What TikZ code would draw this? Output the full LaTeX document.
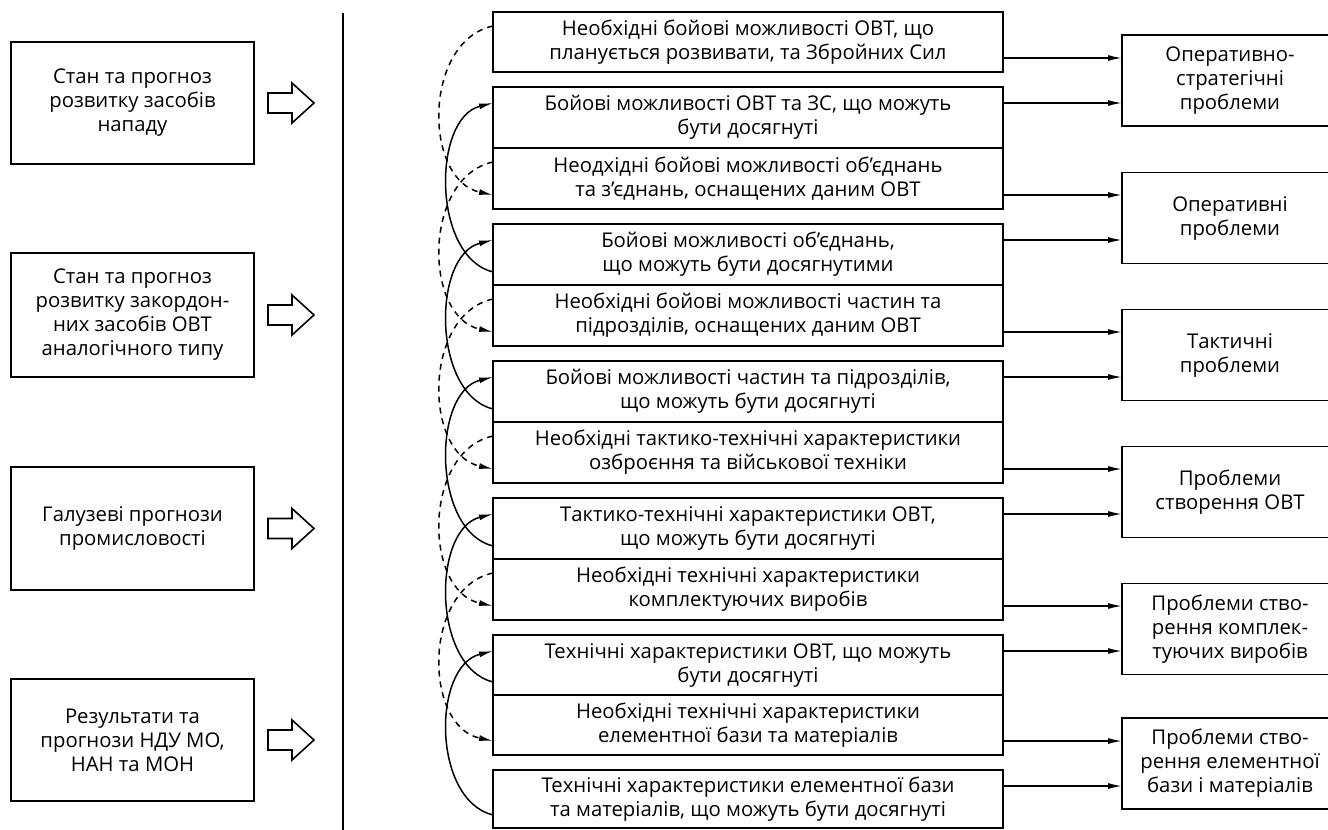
\documentclass[tikz,border=0pt]{standalone}
\usepackage{fontspec}
\setmainfont{Open Sans}
\usetikzlibrary{calc,arrows.meta}
\begin{document}
\begin{tikzpicture}[x=1pt,y=-1pt,
  txt/.style={font=\fontsize{20.3}{24}\selectfont, align=center},
  box/.style={txt, draw, line width=1.7pt, inner sep=0pt, outer sep=0pt},
  lbox/.style={box, minimum width=243pt},
  mbox/.style={box, minimum width=510pt},
  rbox/.style={box, minimum width=216pt, minimum height=91pt},
  arr/.style={line width=1.5pt, -{Latex[length=14pt,width=6pt]}},
  dsh/.style={arr, dash pattern=on 6pt off 5pt},
  harrow/.pic={\draw[line width=1.6pt, line join=miter]
      (-23,-10) -- (1,-10) -- (1,-20) -- (23,0) -- (1,20) -- (1,10) -- (-23,10) -- cycle;}
]
\useasboundingbox (0,0) rectangle (1328,830);
\clip (0,0) rectangle (1328,830);

% left column
\node[lbox, minimum height=122pt] (L1) at (132.5,103) {Стан та прогноз\\розвитку засобів\\нападу};
\node[lbox, minimum height=124pt] (L2) at (132.5,315) {Стан та прогноз\\розвитку закордон-\\них засобів ОВТ\\аналогічного типу};
\node[lbox, minimum height=123pt] (L3) at (132.5,528.5) {Галузеві прогнози\\промисловості};
\node[lbox, minimum height=122pt] (L4) at (132.5,740) {Результати та\\прогнози НДУ МО,\\НАН та МОН};

\pic at (291,103) {harrow};
\pic at (291,315) {harrow};
\pic at (291,528.5) {harrow};
\pic at (291,740) {harrow};

\draw[line width=1.6pt] (343,13) -- (343,830);

% middle column
\node[mbox, minimum height=60pt] (A) at (748,42) {Необхідні бойові можливості ОВТ, що\\планується розвивати, та Збройних Сил};
\node[mbox, minimum height=61pt] (B1) at (748,117.5) {Бойові можливості ОВТ та ЗС, що можуть\\бути досягнуті};
\node[mbox, minimum height=61pt] (B2) at (748,178.5) {Неодхідні бойові можливості об’єднань\\та з’єднань, оснащених даним ОВТ};
\node[mbox, minimum height=61pt] (C1) at (748,254.5) {Бойові можливості об’єднань,\\що можуть бути досягнутими};
\node[mbox, minimum height=61pt] (C2) at (748,315.5) {Необхідні бойові можливості частин та\\підрозділів, оснащених даним ОВТ};
\node[mbox, minimum height=61pt] (D1) at (748,391.5) {Бойові можливості частин та підрозділів,\\що можуть бути досягнуті};
\node[mbox, minimum height=61pt] (D2) at (748,452.5) {Необхідні тактико-технічні характеристики\\озброєння та військової техніки};
\node[mbox, minimum height=61pt] (E1) at (748,528.5) {Тактико-технічні характеристики ОВТ,\\що можуть бути досягнуті};
\node[mbox, minimum height=61pt] (E2) at (748,589.5) {Необхідні технічні характеристики\\комплектуючих виробів};
\node[mbox, minimum height=60pt] (F1) at (748,665) {Технічні характеристики ОВТ, що можуть\\бути досягнуті};
\node[mbox, minimum height=60pt] (F2) at (748,725) {Необхідні технічні характеристики\\елементної бази та матеріалів};
\node[mbox, minimum height=58pt] (G) at (748,799) {Технічні характеристики елементної бази\\та матеріалів, що можуть бути досягнуті};

% right column
\node[rbox] (R1) at (1230,80.5) {Оперативно-\\стратегічні\\проблеми};
\node[rbox] (R2) at (1230,218) {Оперативні\\проблеми};
\node[rbox] (R3) at (1230,355) {Тактичні\\проблеми};
\node[rbox] (R4) at (1230,492) {Проблеми\\створення ОВТ};
\node[rbox] (R5) at (1230,629) {Проблеми ство-\\рення комплек-\\туючих виробів};
\node[rbox] (R6) at (1230,763.5) {Проблеми ство-\\рення елементної\\бази і матеріалів};

% connection points
\foreach \n in {A,B2,C2,D2,E2,F2}{
  \coordinate (\n o) at ($(\n.north west)+(0,14)$);
  \coordinate (\n i) at ($(\n.south west)+(0,-14)$);
}
\foreach \n in {B1,C1,D1,E1,F1,G}{
  \coordinate (\n i) at ($(\n.north west)+(0,16)$);
  \coordinate (\n o) at ($(\n.south west)+(0,-13)$);
}

% arrows to the right column
\foreach \m/\r in {A/R1,B1/R1,B2/R2,C1/R2,C2/R3,D1/R3,D2/R4,E1/R4,E2/R5,F1/R5,F2/R6,G/R6}{
  \draw[arr] (\m.east |- \m i) -- (\r.west |- \m i);
}

% required chain (dashed, downwards)
\foreach \a/\b in {A/B2,B2/C2,C2/D2,D2/E2,E2/F2}{
  \draw[dsh] (\a o) .. controls +(-70,15) and +(-70,-15) .. (\b i);
}
% achievable chain (solid, upwards)
\foreach \a/\b in {G/F1,F1/E1,E1/D1,D1/C1,C1/B1}{
  \draw[arr] (\a o) .. controls +(-61,-15) and +(-61,15) .. (\b i);
}
\end{tikzpicture}
\end{document}
